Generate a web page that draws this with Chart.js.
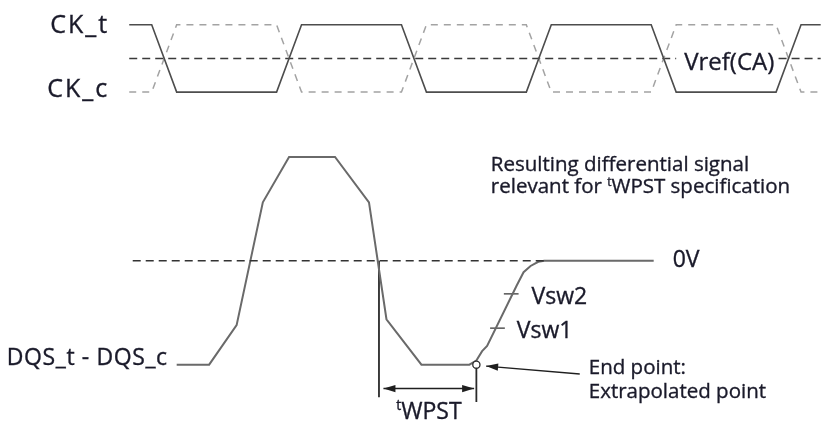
<!DOCTYPE html>
<html>
<head>
<meta charset="utf-8">
<script src="https://cdn.jsdelivr.net/npm/chart.js@4.4.1/dist/chart.umd.min.js"></script>
<style>
  html, body { margin: 0; padding: 0; background: #fff; }
  #wrap { width: 826px; height: 428px; }
</style>
</head>
<body>
<div id="wrap"><canvas id="chart" width="826" height="428"></canvas></div>
<script>
// time axis in tCK, clock in normalised level (1 = high), DQS diff in units of swing
const clkTime = [0.01, 0.1, 0.2, 0.6, 0.7, 1.1, 1.2, 1.6, 1.7, 2.1, 2.2, 2.6, 2.7, 2.85];
const ckT     = [1, 1, 0, 0, 1, 1, 0, 0, 1, 1, 0, 0, 1, 1];
const ckC     = [0, 0, 1, 1, 0, 0, 1, 1, 0, 0, 1, 1, 0, 0];

// Vref line is broken where the "Vref(CA)" label sits
const vrefTime  = [0.01, 2.2, 2.4, 2.61, 2.85];
const vrefLevel = [0.5, 0.5, null, 0.5, 0.5];

const dqsTime = [0.2, 0.33, 0.44, 0.545, 0.65, 0.834, 0.97, 1.04, 1.18, 1.372, 1.40, 1.423, 1.443, 1.561, 1.589, 1.617, 1.648, 1.672, 2.11];
const dqsVolt = [-1, -1, -0.62, 0.563, 1, 1, 0.563, -0.563, -1, -1, -0.96, -0.87, -0.82, -0.24, -0.11, -0.05, -0.01, 0, 0];

const zeroTime = [0.024, 1.672];   // dashed 0V reference
const vsw1 = { level: -0.648, from: 1.455, to: 1.514 };
const vsw2 = { level: -0.319, from: 1.51, to: 1.569 };
const endPointTime = [1.40];
const endPointVolt = [-1.0];
const crossTime = 1.01;

const pts = (xs, ys) => xs.map((x, i) => ({ x, y: ys[i] }));

// labels, anchored on the data axes
const notes = [
  { text: ['CK_t'], x: 0.01, y: 1, axis: 'yClk', dx: -20, dy: 8, align: 'right', size: 25, spacing: 2 },
  { text: ['CK_c'], x: 0.01, y: 0, axis: 'yClk', dx: -20, dy: 5, align: 'right', size: 25, spacing: 2 },
  { text: ['Vref(CA)'], x: 2.2, y: 0.5, axis: 'yClk', dx: 8, dy: 11.5, align: 'left', size: 24 },
  { text: ['DQS_t - DQS_c'], x: 0.2, y: -1, axis: 'yDqs', dx: -9, dy: 0.5, align: 'right', size: 23, spacing: 0.6 },
  { text: ['0V'], x: 2.11, y: 0, axis: 'yDqs', dx: 19, dy: 6, align: 'left', size: 23 },
  { text: ['Vsw2'], x: vsw2.to, y: vsw2.level, axis: 'yDqs', dx: 13, dy: 10, align: 'left', size: 23 },
  { text: ['Vsw1'], x: vsw1.to, y: vsw1.level, axis: 'yDqs', dx: 12, dy: 10, align: 'left', size: 23 },
  { text: ['End point:'], x: 1.814, y: -1.09, axis: 'yDqs', dx: 9, dy: 0, align: 'left', size: 20.5 },
  { text: ['Extrapolated point'], x: 1.814, y: -1.09, axis: 'yDqs', dx: 9, dy: 24, align: 'left', size: 20.5 },
  { text: ['Resulting differential signal'], x: 1.458, y: 0.864, axis: 'yDqs', dx: 0, dy: 0, align: 'left', size: 20.5 },
  { text: ['relevant for ', { sup: 't' }, 'WPST specification'], x: 1.458, y: 0.648, axis: 'yDqs', dx: 0, dy: 0, align: 'left', size: 20.5 },
  { text: [{ sup: 't' }, 'WPST'], x: 1.21, y: -1.23, axis: 'yDqs', dx: 0, dy: 30, align: 'center', size: 23 }
];

const FONT = '"Open Sans", "DejaVu Sans", sans-serif';

const notesPlugin = {
  id: 'notes',
  afterDatasetsDraw(chart) {
    const ctx = chart.ctx;
    const xs = chart.scales.x;
    ctx.save();
    ctx.fillStyle = '#1a1a2a';
    ctx.strokeStyle = '#1a1a2a';
    ctx.lineWidth = 0.35;
    ctx.textBaseline = 'alphabetic';
    notes.forEach(n => {
      const ys = chart.scales[n.axis];
      ctx.letterSpacing = (n.spacing || 0) + 'px';
      const segs = n.text.map(s => typeof s === 'string'
        ? { s, size: n.size, rise: 0 }
        : { s: s.sup, size: Math.round(n.size * 0.6), rise: n.size * 0.36 });
      let total = 0;
      segs.forEach(seg => {
        ctx.font = seg.size + 'px ' + FONT;
        seg.w = ctx.measureText(seg.s).width;
        total += seg.w;
      });
      let px = xs.getPixelForValue(n.x) + n.dx;
      const py = ys.getPixelForValue(n.y) + n.dy;
      if (n.align === 'right') px -= total;
      if (n.align === 'center') px -= total / 2;
      segs.forEach(seg => {
        ctx.font = seg.size + 'px ' + FONT;
        ctx.fillText(seg.s, px, py - seg.rise);
        ctx.strokeText(seg.s, px, py - seg.rise);
        px += seg.w;
      });
    });
    ctx.restore();
  }
};

// filled arrow heads on datasets that ask for them
const arrowPlugin = {
  id: 'arrowHeads',
  afterDatasetsDraw(chart) {
    const ctx = chart.ctx;
    chart.data.datasets.forEach((ds, i) => {
      if (!ds.arrows) return;
      const p = chart.getDatasetMeta(i).data;
      const head = (tip, from) => {
        const a = Math.atan2(tip.y - from.y, tip.x - from.x);
        ctx.save();
        ctx.translate(tip.x, tip.y);
        ctx.rotate(a);
        ctx.beginPath();
        ctx.moveTo(0, 0);
        ctx.lineTo(-12, -3.6);
        ctx.lineTo(-12, 3.6);
        ctx.closePath();
        ctx.fillStyle = ds.borderColor;
        ctx.fill();
        ctx.restore();
      };
      if (ds.arrows.includes('start')) head(p[0], p[1]);
      if (ds.arrows.includes('end')) head(p[p.length - 1], p[p.length - 2]);
    });
  }
};

const line = (data, axis, color, width, extra) => Object.assign({
  data, yAxisID: axis, showLine: true, borderColor: color, borderWidth: width,
  pointRadius: 0, pointHoverRadius: 0, tension: 0, fill: false
}, extra || {});

const datasets = [
  // end point marker on top
  { data: pts(endPointTime, endPointVolt), yAxisID: 'yDqs', order: -1,
    pointRadius: 3.6, pointStyle: 'circle', pointBackgroundColor: '#ffffff',
    pointBorderColor: '#2a2a2a', pointBorderWidth: 1.3, showLine: false },

  line(pts(clkTime, ckT), 'yClk', '#4d4d4d', 1.6),
  line(pts(clkTime, ckC), 'yClk', '#a3a3a3', 1.5, { borderDash: [7, 6] }),
  line(pts(vrefTime, vrefLevel), 'yClk', '#3a3a3a', 1.5, { borderDash: [8, 5], spanGaps: false }),

  line(pts(zeroTime, [0, 0]), 'yDqs', '#333333', 1.4, { borderDash: [8, 5] }),
  line(pts(dqsTime, dqsVolt), 'yDqs', '#6a6a6a', 2),
  line(pts([vsw1.from, vsw1.to], [vsw1.level, vsw1.level]), 'yDqs', '#333333', 1.4),
  line(pts([vsw2.from, vsw2.to], [vsw2.level, vsw2.level]), 'yDqs', '#333333', 1.4),

  // tWPST markers
  line(pts([crossTime, crossTime], [0, -1.315]), 'yDqs', '#2a2a2a', 1.8),
  line(pts([1.40, 1.40], [-1.04, -1.36]), 'yDqs', '#2a2a2a', 1.8),
  line(pts([1.028, 1.391], [-1.23, -1.23]), 'yDqs', '#1f1f1f', 1.6, { arrows: ['start', 'end'] }),
  line(pts([1.814, 1.439], [-1.09, -1.014]), 'yDqs', '#1f1f1f', 1.4, { arrows: ['end'] })
];

new Chart(document.getElementById('chart'), {
  type: 'scatter',
  data: { datasets },
  options: {
    responsive: false,
    animation: false,
    devicePixelRatio: 1,
    events: [],
    layout: { padding: 0 },
    plugins: { legend: { display: false }, tooltip: { enabled: false } },
    scales: {
      x: { type: 'linear', min: -0.4862, max: 2.7787, display: false },
      yClk: { type: 'linear', axis: 'y', min: -4.913, max: 1.2899, display: false },
      yDqs: { type: 'linear', axis: 'y', min: -1.559, max: 2.46, display: false }
    }
  },
  plugins: [arrowPlugin, notesPlugin]
});
</script>
</body>
</html>
